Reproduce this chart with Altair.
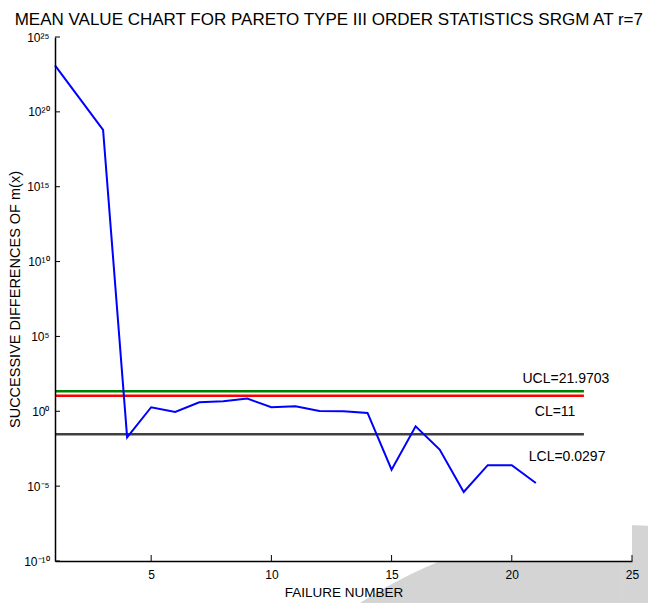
import math
import altair as alt
import pandas as pd

# ---- data ----
failure_number = [1, 2, 3, 4, 5, 6, 7, 8, 9, 10, 11, 12, 13, 14, 15, 16, 17, 18, 19, 20, 21]
log10_diff = [23.1, 20.95, 18.8, -1.74, 0.27, -0.05, 0.6, 0.67, 0.85, 0.27, 0.33, 0.02, 0.0,
              -0.11, -3.9, -1.0, -2.56, -5.39, -3.6, -3.6, -4.79]
succ_diff = [10 ** v for v in log10_diff]

limit_names = ["UCL", "CL", "LCL"]
limit_values = [21.9703, 11.0, 0.0297]
limit_colors = ["#008000", "#ff0000", "#404040"]
limit_labels = ["UCL=21.9703", "CL=11", "LCL=0.0297"]
label_x = [22.25, 21.8, 22.3]
label_y = [10 ** 2.14, 10 ** -0.05, 10 ** -3.05]
line_start, line_end = 1, 23

y_ticks = [1e-10, 1e-5, 1e0, 1e5, 1e10, 1e15, 1e20, 1e25]
y_tick_text = ["10⁻¹⁰", "10⁻⁵", "10⁰", "10⁵", "10¹⁰", "10¹⁵", "10²⁰", "10²⁵"]
x_ticks = [5, 10, 15, 20, 25]

df = pd.DataFrame({"x": failure_number, "y": succ_diff})
limits = pd.DataFrame({"name": limit_names, "v": limit_values, "x1": line_start, "x2": line_end,
                       "color": limit_colors})
labels = pd.DataFrame({"t": limit_labels, "lx": label_x, "ly": label_y})
yt = pd.DataFrame({"v": y_ticks})
xt = pd.DataFrame({"v": x_ticks})

label_expr = ""
for v, t in zip(y_ticks, y_tick_text):
    label_expr += f"abs(log(datum.value)/log(10) - ({round(math.log10(v))})) < 0.01 ? '{t}' : "
label_expr += "''"

W, H = 577, 524
xscale = alt.Scale(domain=[1, 25], nice=False, zero=False)
yscale = alt.Scale(type="log", domain=[1e-10, 1e25], nice=False)

sans = "Liberation Sans, Arial"

# decorative background shape (page decoration, not data)
blob = alt.Chart(pd.DataFrame({"d": [0]})).mark_arc(
    color="#d4d4d4", radius=482, theta=0, theta2=6.283
).encode(x=alt.value(568), y=alt.value(970))
plot_bg = alt.Chart(pd.DataFrame({"d": [0]})).mark_rect(color="white").encode(
    x=alt.value(0), x2=alt.value(W), y=alt.value(0), y2=alt.value(H)
)

line = alt.Chart(df).mark_line(color="#0000ff", strokeWidth=2).encode(
    x=alt.X("x:Q", scale=xscale,
            axis=alt.Axis(values=x_ticks, title="FAILURE NUMBER", grid=False, ticks=False,
                          labelFlush=False, domainColor="black", domainWidth=1.5,
                          labelFontSize=12, labelFont=sans, labelColor="black", labelPadding=8,
                          titleFont=sans, titleFontSize=13.5, titleFontWeight="normal",
                          titleColor="black", titlePadding=5, zindex=2)),
    y=alt.Y("y:Q", scale=yscale,
            axis=alt.Axis(values=y_ticks, labelExpr=label_expr, title="SUCCESSIVE DIFFERENCES OF m(x)",
                          grid=False, ticks=False, labelFlush=False, domainColor="black",
                          domainWidth=1.5, labelFontSize=12, labelFont=sans, labelColor="black",
                          labelPadding=6, titleFont=sans, titleFontSize=14.5,
                          titleFontWeight="normal", titleColor="black", titlePadding=1, zindex=2)),
)

rules = alt.Chart(limits).mark_rule(strokeWidth=2.5).encode(
    x=alt.X("x1:Q", scale=xscale), x2="x2:Q", y=alt.Y("v:Q", scale=yscale),
    color=alt.Color("color:N", scale=None),
)

texts = alt.Chart(labels).mark_text(font=sans, fontSize=14, color="black").encode(
    x=alt.X("lx:Q", scale=xscale), y=alt.Y("ly:Q", scale=yscale), text="t:N",
)

ytick_marks = alt.Chart(yt).mark_rule(color="black", strokeWidth=1).encode(
    y=alt.Y("v:Q", scale=yscale), x=alt.value(0), x2=alt.value(5),
)
xtick_marks = alt.Chart(xt).mark_rule(color="black", strokeWidth=1).encode(
    x=alt.X("v:Q", scale=xscale), y=alt.value(H), y2=alt.value(H - 6),
)

chart = alt.layer(blob, plot_bg, rules, line, texts, ytick_marks, xtick_marks).properties(
    width=W, height=H,
    background="white",
    autosize=alt.AutoSizeParams(type="none"),
    padding={"left": 47, "top": 29, "right": 16, "bottom": 42},
    title=alt.Title("MEAN VALUE CHART FOR PARETO TYPE III ORDER STATISTICS SRGM AT r=7",
                    font=sans, fontSize=17, fontWeight="normal", color="black",
                    anchor="start", dx=7, offset=2),
).configure_view(strokeWidth=0, stroke="transparent")

chart.save("out.html", embed_options={"renderer": "svg", "actions": False})
